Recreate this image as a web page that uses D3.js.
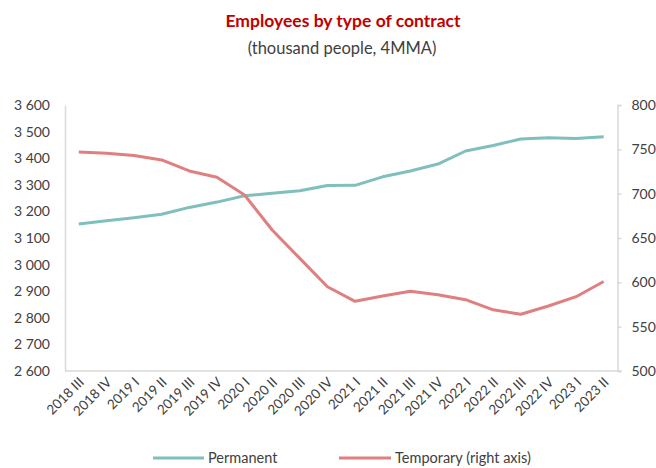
<!DOCTYPE html>
<html>
<head>
<meta charset="utf-8">
<script src="https://cdn.jsdelivr.net/npm/d3@7"></script>
<style>
  html, body { margin: 0; padding: 0; background: #fff; }
  svg { display: block; font-family: Lato, "Open Sans", sans-serif; }
</style>
</head>
<body>
<svg id="chart" width="656" height="468"></svg>
<script>
const categories = ["2018 III","2018 IV","2019 I","2019 II","2019 III","2019 IV","2020 I","2020 II","2020 III","2020 IV","2021 I","2021 II","2021 III","2021 IV","2022 I","2022 II","2022 III","2022 IV","2023 I","2023 II"];
const permanent = [3153,3165,3176,3189,3215,3235,3259,3268,3278,3297,3298,3330,3352,3378,3427,3448,3472,3477,3474,3481];
const temporary = [747,745.5,743,738,725.6,718.5,698.5,659,627,595,578.6,584.6,590,586,580.4,569,564,573.3,583.8,601];
const leftTicks = [2600,2700,2800,2900,3000,3100,3200,3300,3400,3500,3600];
const rightTicks = [500,550,600,650,700,750,800];
const title = "Employees by type of contract";
const subtitle = "(thousand people, 4MMA)";
const seriesNames = ["Permanent","Temporary (right axis)"];
const colors = ["#7fbfbc","#e07f7f"];

const svg = d3.select("#chart");
const m = {left: 65, right: 617.5, top: 105, bottom: 371};

const x = d3.scaleBand().domain(categories).range([m.left, m.right]);
const yL = d3.scaleLinear().domain([2600,3600]).range([m.bottom, m.top]);
const yR = d3.scaleLinear().domain([500,800]).range([m.bottom, m.top]);
const fmt = v => d3.format(",")(v).replace(/,/g, " ");

// title
svg.append("text").attr("x", 343).attr("y", 27).attr("text-anchor","middle")
  .attr("font-size", 17.5).attr("font-weight","bold").attr("fill","#c00000").text(title);
svg.append("text").attr("x", 342).attr("y", 54).attr("text-anchor","middle")
  .attr("font-size", 16.5).attr("fill","#404040").text(subtitle);

// left axis
const gL = svg.append("g").attr("transform", `translate(${m.left},0)`)
  .call(d3.axisLeft(yL).tickValues(leftTicks).tickFormat(fmt).tickSize(0).tickPadding(15));
gL.select(".domain").attr("stroke","#d9d9d9").attr("stroke-width",1.5);
gL.selectAll("text").attr("font-size",14).attr("fill","#404040").attr("font-family","Lato, sans-serif");

// right axis
const gR = svg.append("g").attr("transform", `translate(${m.right},0)`)
  .call(d3.axisRight(yR).tickValues(rightTicks).tickSize(4).tickSizeOuter(4).tickPadding(10));
gR.select(".domain").attr("stroke","#d9d9d9").attr("stroke-width",1.5);
gR.selectAll(".tick line").attr("stroke","#d9d9d9").attr("stroke-width",1.5);
gR.selectAll("text").attr("font-size",14).attr("fill","#404040").attr("font-family","Lato, sans-serif");

// bottom axis
const gB = svg.append("g").attr("transform", `translate(0,${m.bottom})`)
  .call(d3.axisBottom(x).tickSize(0).tickSizeOuter(0));
gB.select(".domain").attr("stroke","#d9d9d9").attr("stroke-width",1.5)
  .attr("d", `M${m.left},0H${m.right+4}`);
gB.selectAll("text").attr("font-size",13.5).attr("fill","#404040").attr("font-family","Lato, sans-serif")
  .attr("text-anchor","end").attr("dy",null).attr("y",0)
  .attr("transform","translate(6,12) rotate(-45)");

// lines
const lineL = d3.line().x((d,i)=>x(categories[i])+x.bandwidth()/2).y(d=>yL(d));
const lineR = d3.line().x((d,i)=>x(categories[i])+x.bandwidth()/2).y(d=>yR(d));
svg.append("path").datum(permanent).attr("d", lineL).attr("fill","none")
  .attr("stroke",colors[0]).attr("stroke-width",3).attr("stroke-linejoin","round");
svg.append("path").datum(temporary).attr("d", lineR).attr("fill","none")
  .attr("stroke",colors[1]).attr("stroke-width",3).attr("stroke-linejoin","round");

// legend
const legend = [{x1:153, x2:204, tx:208},{x1:339, x2:391, tx:395}];
legend.forEach((l,i)=>{
  svg.append("line").attr("x1",l.x1).attr("x2",l.x2).attr("y1",458).attr("y2",458)
    .attr("stroke",colors[i]).attr("stroke-width",3);
  svg.append("text").attr("x",l.tx).attr("y",463).attr("font-size",14.5).attr("fill","#404040").text(seriesNames[i]);
});
</script>
</body>
</html>
